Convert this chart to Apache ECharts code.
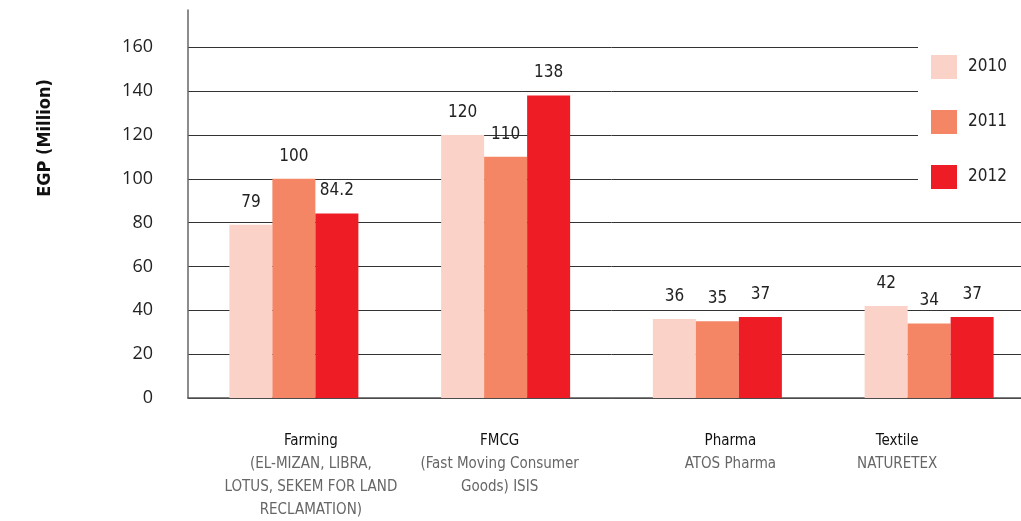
<!DOCTYPE html>
<html><head><meta charset="utf-8">
<script src="https://cdn.jsdelivr.net/npm/echarts@6/dist/echarts.min.js"></script>
<style>html,body{margin:0;padding:0;background:#fff;overflow:hidden;width:1021px;height:521px}#c{width:1045px;height:521px}</style>
</head><body><div id="c"></div>
<script>
const categories = ['Farming', 'FMCG', 'Pharma', 'Textile'];
const subtitles = ['(EL-MIZAN, LIBRA,\nLOTUS, SEKEM FOR LAND\nRECLAMATION)', '(Fast Moving Consumer\nGoods) ISIS', 'ATOS Pharma', 'NATURETEX'];
const years = ['2010', '2011', '2012'];
const values2010 = [79, 120, 36, 42];
const values2011 = [100, 110, 35, 34];
const values2012 = [84.2, 138, 37, 37];
const yTicks = [0, 20, 40, 60, 80, 100, 120, 140, 160];

const colors = ['#FAD2C8', '#F48665', '#EE1C25'];
const narrow = "'Liberation Sans Narrow', 'DejaVu Sans Condensed', sans-serif";
const labelPad = [[0,0,0,34],[0,12,0,0],[0,0,0,26],[0,64,0,0]];

const chart = echarts.init(document.getElementById('c'));
const seriesVals = [values2010, values2011, values2012];
chart.setOption({
  animation: false,
  backgroundColor: '#fff',
  grid: {left: 188, width: 847, top: 10, height: 388, containLabel: false},
  legend: {
    orient: 'vertical', left: 918, top: 45,
    padding: [10, 20, 10, 13],
    backgroundColor: '#fff',
    itemWidth: 26, itemHeight: 24, itemGap: 31,
    icon: 'rect',
    textStyle: {fontFamily: narrow, fontSize: 17, color: '#222', padding: [0,0,0,6]},
    data: years
  },
  xAxis: {
    type: 'category',
    data: categories.map((c, i) => ({value: c, textStyle: {padding: labelPad[i]}})),
    axisTick: {show: false},
    axisLine: {lineStyle: {color: '#555', width: 1.5}},
    axisLabel: {
      interval: 0, margin: 32,
      formatter: (v, i) => '{t|' + v + '}\n{s|' + subtitles[i].split('\n').join('}\n{s|') + '}',
      rich: {
        t: {fontFamily: narrow, fontSize: 15, color: '#111', lineHeight: 23, align: 'center'},
        s: {fontFamily: narrow, fontSize: 15, color: '#666', lineHeight: 23, align: 'center'}
      }
    }
  },
  yAxis: {
    type: 'value', min: 0, max: 177, interval: 20,
    axisLine: {show: true, lineStyle: {color: '#666', width: 1.5}},
    axisTick: {show: false},
    axisLabel: {
      margin: 35, fontFamily: "'Open Sans', sans-serif", fontSize: 18, color: '#222',
      showMaxLabel: false,
      formatter: v => (yTicks.indexOf(v) >= 0 ? String(v) : '')
    },
    splitLine: {show: true, showMaxLine: false, lineStyle: {color: '#333', width: 1}}
  },
  graphic: [{
    type: 'text', x: 45, y: 138, rotation: Math.PI / 2,
    style: {text: 'EGP (Million)', fontFamily: narrow, fontWeight: 'bold', fontSize: 18, fill: '#111', align: 'center', verticalAlign: 'middle'}
  }],
  series: years.map((y, k) => ({
    name: y, type: 'bar', data: seriesVals[k],
    barWidth: 43, barGap: '0%',
    itemStyle: {color: colors[k]},
    label: {show: true, position: 'top', distance: 14, fontFamily: narrow, fontSize: 17, color: '#222'}
  }))
});
</script></body></html>
